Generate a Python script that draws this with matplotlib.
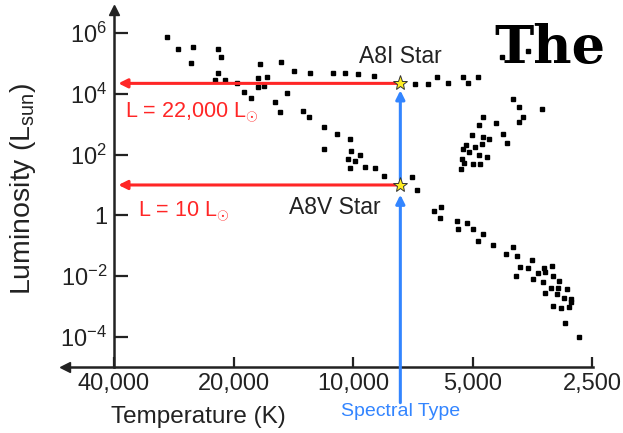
import matplotlib
matplotlib.use("Agg")
import matplotlib.pyplot as plt
from matplotlib.ticker import FixedLocator, FixedFormatter, NullLocator

plt.rcParams['font.family'] = ['Liberation Sans', 'DejaVu Sans']
plt.rcParams['mathtext.fontset'] = 'custom'
plt.rcParams['mathtext.rm'] = 'Liberation Sans'
plt.rcParams['mathtext.it'] = 'Liberation Sans:italic'
plt.rcParams['mathtext.bf'] = 'Liberation Sans:bold'

# ---- star samples: effective temperature (K) and luminosity (L_sun) ----
supergiant_temp = [29400, 27600, 25300, 25600, 21900, 21500, 21900, 22300, 21000, 19600,
                   18800, 17200, 17400, 16500, 16800, 17400, 15200, 14100, 12800, 14700,
                   11200, 10500, 9720, 8850, 6980, 6470, 6140, 5760, 5280, 5130,
                   4840, 4210, 3630]
supergiant_lum = [7.4e5, 3.0e5, 3.46e5, 1.03e5, 3.0e5, 1.63e5, 4.83e4, 2.84e4, 2.84e4, 2.27e4,
                  1.15e4, 9.55e4, 3.31e4, 3.57e4, 1.81e4, 1.67e4, 1.11e5, 5.62e4, 4.83e4, 1.06e4,
                  4.83e4, 4.83e4, 4.48e4, 3.85e4, 2.10e4, 2.10e4, 3.57e4, 2.27e4, 3.57e4, 2.27e4,
                  3.57e4, 1.63e5, 2.56e5]

giant_temp = [3960, 3820, 3340, 4710, 3730, 3820, 4810, 4360, 4190, 4090,
              5020, 4710, 4540, 4730, 4930, 5190, 5280, 5100, 4810, 4600,
              5310, 5250, 4990, 4790, 5340]
giant_lum = [6750, 3680, 3160, 1730, 1730, 1180, 942, 1090, 476, 241,
             441, 379, 326, 223, 178, 207, 153, 122, 97, 83,
             72, 53, 49, 49, 33.6]

main_seq_temp = [18100, 15700, 15300, 13400, 12900, 11800, 11000, 10200, 11800, 10100,
                 9610, 10300, 9890, 10200, 9330, 8800, 8350, 7100, 6900, 6000,
                 6250, 6040, 5470, 5160, 5440, 4990, 4710, 4840, 4440, 4120,
                 3960, 3860, 3540, 3800, 3630, 3890, 3520, 3420, 3280, 3150,
                 3300, 3130, 3320, 3030, 3170, 3040, 2890, 3280, 3060, 2940,
                 2830, 2830, 3130, 3000, 2860, 2920, 2690]
main_seq_lum = [7270, 5370, 2520, 2720, 1730, 809, 476, 326, 153, 131,
                97, 72, 61.6, 36.2, 39.1, 36.2, 19.8, 18.3, 6.85, 1.89,
                1.40, 0.82, 0.655, 0.562, 0.357, 0.357, 0.244, 0.144, 0.106, 0.0537,
                0.0912, 0.0461, 0.0341, 0.0201, 0.0186, 0.0102, 0.0081, 0.0127, 0.0137, 0.0217,
                0.0186, 0.0102, 0.00644, 0.00695, 0.00409, 0.00409, 0.00379, 0.0028, 0.00259, 0.00192,
                0.00178, 0.00142, 0.00105, 0.0009, 0.00097, 0.000289, 0.0001]

# highlighted A8 stars
a8_temp = 7600
a8i_lum = 22000
a8v_lum = 10

temp_ticks = [40000, 20000, 10000, 5000, 2500]
temp_labels = ['40,000', '20,000', '10,000', '5,000', '2,500']
lum_ticks = [1e6, 1e4, 1e2, 1, 1e-2, 1e-4]
lum_labels = [r'$\mathregular{10^{6}}$', r'$\mathregular{10^{4}}$', r'$\mathregular{10^{2}}$',
              '1', r'$\mathregular{10^{-2}}$', r'$\mathregular{10^{-4}}$']

INK = '#222222'
RED = '#ff2626'
BLUE = '#3385ff'

fig = plt.figure(figsize=(6.23, 4.33), dpi=100)
ax = fig.add_axes([65 / 623, 1 - 367 / 433, 528 / 623, 357 / 433])
ax.set_xscale('log')
ax.set_yscale('log')
ax.set_xlim(53150, 2486)
ax.set_ylim(1.03e-5, 5.7e6)

# axes frame: vertical axis sits at 40,000 K, horizontal axis along the bottom
for side in ('top', 'right'):
    ax.spines[side].set_visible(False)
ax.spines['left'].set_position(('data', 40000))
ax.spines['left'].set_linewidth(1.8)
ax.spines['bottom'].set_linewidth(1.8)
ax.spines['left'].set_color(INK)
ax.spines['bottom'].set_color(INK)
ax.plot([40000], [1.0], marker='^', ms=7, color=INK, transform=ax.get_xaxis_transform(),
        clip_on=False)
ax.plot([0.0], [0.0], marker='<', ms=7, color=INK, transform=ax.transAxes, clip_on=False)

ax.xaxis.set_major_locator(FixedLocator(temp_ticks))
ax.xaxis.set_major_formatter(FixedFormatter(temp_labels))
ax.xaxis.set_minor_locator(NullLocator())
ax.yaxis.set_major_locator(FixedLocator(lum_ticks))
ax.yaxis.set_major_formatter(FixedFormatter(lum_labels))
ax.yaxis.set_minor_locator(NullLocator())
ax.tick_params(axis='x', direction='in', length=7, width=1.6, color=INK, pad=4,
               labelsize=17, labelcolor=INK)
ax.tick_params(axis='y', direction='in', length=10, width=1.6, color=INK, pad=5,
               labelsize=17, labelcolor=INK)

# stars
for temps, lums in ((supergiant_temp, supergiant_lum),
                    (giant_temp, giant_lum),
                    (main_seq_temp, main_seq_lum)):
    ax.plot(temps, lums, linestyle='none', marker='s', ms=3.0, color='black', zorder=3)

# luminosity read-offs
for lum in (a8i_lum, a8v_lum):
    ax.annotate('', xy=(39000, lum), xytext=(a8_temp, lum),
                arrowprops=dict(arrowstyle='-|>', color=RED, lw=2.2, mutation_scale=13,
                                shrinkA=0, shrinkB=0))

# spectral type arrows
ax.annotate('', xy=(a8_temp, a8v_lum), xytext=(a8_temp, -0.10),
            textcoords=('data', 'axes fraction'), annotation_clip=False,
            arrowprops=dict(arrowstyle='-|>', color=BLUE, lw=2.2, mutation_scale=13,
                            shrinkA=0, shrinkB=7))
ax.annotate('', xy=(a8_temp, a8i_lum), xytext=(a8_temp, a8v_lum),
            arrowprops=dict(arrowstyle='-|>', color=BLUE, lw=2.2, mutation_scale=13,
                            shrinkA=4, shrinkB=5))

for lum in (a8i_lum, a8v_lum):
    ax.plot([a8_temp], [lum], marker='*', ms=11, mfc='#ffee22', mec='#333333', mew=0.7,
            zorder=5)

ax.annotate('L = 22,000 L$_{\\odot}$', xy=(40000, a8i_lum), xytext=(8, -21),
            textcoords='offset points', color=RED, fontsize=15.5, ha='left', va='center')
ax.annotate('L = 10 L$_{\\odot}$', xy=(40000, a8v_lum), xytext=(17, -19),
            textcoords='offset points', color=RED, fontsize=15.5, ha='left', va='center')
ax.annotate('A8I Star', xy=(a8_temp, a8i_lum), xytext=(-30, 19.5),
            textcoords='offset points', color=INK, fontsize=16.5, ha='left', va='center')
ax.annotate('A8V Star', xy=(a8_temp, a8v_lum), xytext=(-80, -16.5),
            textcoords='offset points', color=INK, fontsize=16.5, ha='left', va='center')
ax.text(a8_temp, -0.126, 'Spectral Type', transform=ax.get_xaxis_transform(),
        color=BLUE, fontsize=14, ha='center', va='center')

fig.text(23 / 623, 1 - 189 / 433, 'Luminosity (L$_{\\mathregular{sun}}$)', rotation=90,
         ha='center', va='center', fontsize=20.5, color=INK)
fig.text(198 / 623, 1 - 417 / 433, 'Temperature (K)', ha='center', va='center',
         fontsize=17.5, color=INK)

# page heading, drawn beneath the star markers
fig.text(494 / 623, 1 - 63 / 433, 'The', ha='left', va='baseline',
         fontsize=38, fontweight='bold', family='DejaVu Serif', color='black', zorder=0)

fig.savefig('out.png', dpi=100)
